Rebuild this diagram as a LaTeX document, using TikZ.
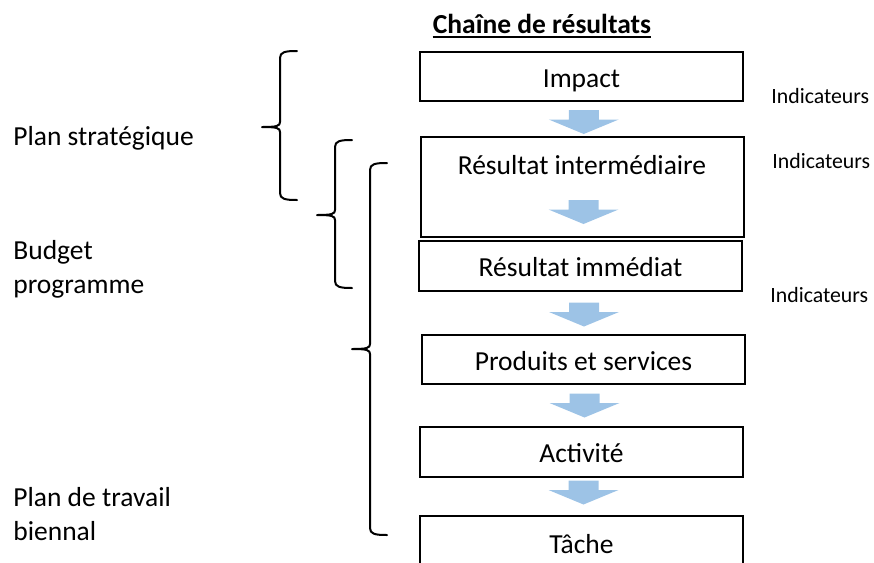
\documentclass[tikz,border=0pt]{standalone}
\usepackage{fontspec}
\setmainfont{Carlito}
\usetikzlibrary{calc}
\definecolor{flowblue}{HTML}{9DC3E6}

% left curly bracket: #1 spine x, #2 end x, #3 tip x, #4 top y, #5 tip y, #6 bottom y
\newcommand\drawbrace[6]{%
  \draw[bracket] (#2,#4) .. controls (#1+5,#4) and (#1,#4+1) .. (#1,#4+7)
    -- (#1,#5-5) .. controls (#1,#5-1) and (#1-3,#5) .. (#3,#5)
    .. controls (#1-3,#5) and (#1,#5+1) .. (#1,#5+5)
    -- (#1,#6-7) .. controls (#1,#6-1) and (#1+5,#6) .. (#2,#6);}

\begin{document}
\begin{tikzpicture}[x=0.5pt,y=-0.5pt,
  mainfont/.style={font=\fontsize{13.75}{16}\selectfont},
  box/.style={draw, line width=1pt, minimum width=161.5pt, inner sep=0pt,
    text height=10.5pt, text depth=0pt, mainfont},
  lbl/.style={inner sep=0pt, mainfont, anchor=base west},
  ind/.style={inner sep=0pt, font=\fontsize{10.9}{13}\selectfont, anchor=base west},
  bracket/.style={line width=1pt, line join=round, line cap=round},
  pics/dnarrow/.style={code={
    \fill[flowblue] (-15,-12) -- (15,-12) -- (15,-2.5) -- (35,-2.5) -- (0,12)
      -- (-35,-2.5) -- (-15,-2.5) -- cycle;}}]
\useasboundingbox (0,0) rectangle (874,563);
\clip (0,0) rectangle (874,563);

% title
\node[inner sep=0pt, font=\fontsize{13.75}{16}\selectfont\bfseries, anchor=base]
  (title) at (542,33) {Chaîne de résultats};
\draw[line width=1pt] ([yshift=-2pt]title.base west) -- ([yshift=-2pt]title.base east);

% results chain
\node[box, minimum height=24.5pt] (impact) at (581.5,76.5) {Impact};
\node[box, minimum height=50pt, text height=0pt, text depth=13pt] (inter) at (582,187) {Résultat intermédiaire};
\node[box, minimum height=25pt] (immed) at (580.5,266) {Résultat immédiat};
\node[box, minimum height=24.5pt] (prod) at (583.5,359.5) {Produits et services};
\node[box, minimum height=25pt] (activ) at (581.5,452) {Activité};
\node[box, minimum height=27pt] (tache) at (581.5,543) {Tâche};

% block arrows between the levels
\pic at ($(impact.south)!0.5!(inter.north)+(2,3)$) {dnarrow};
\pic at ($(inter.south)+(1.5,-26)$) {dnarrow};
\pic at ($(immed.south)!0.5!(prod.north)+(2,1.5)$) {dnarrow};
\pic at ($(prod.south)!0.5!(activ.north)+(2,0)$) {dnarrow};
\pic at ($(activ.south)!0.5!(tache.north)+(2,-4)$) {dnarrow};

% indicators
\node[ind] (ind1) at (771,103) {Indicateurs};
\node[ind] (ind2) at (772,168) {Indicateurs};
\node[ind] (ind3) at (770,302) {Indicateurs};

% planning levels and their brackets
\node[lbl] (strat) at (13,145) {Plan stratégique};
\node[lbl] (budget) at (13,259) {Budget};
\node[lbl] (budget2) at (13,293) {programme};
\node[lbl] (travail) at (13,506) {Plan de travail};
\node[lbl] (travail2) at (13,540) {biennal};

\drawbrace{280}{297}{262}{51}{127}{200}
\drawbrace{335}{352}{317}{140}{215}{288}
\drawbrace{370}{387}{352}{163}{349}{535}
\end{tikzpicture}
\end{document}
